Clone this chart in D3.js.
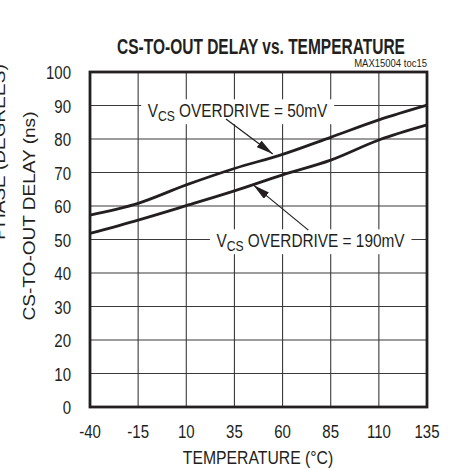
<!DOCTYPE html>
<html>
<head>
<meta charset="utf-8">
<script src="https://cdn.jsdelivr.net/npm/d3@7"></script>
<style>
  body { margin: 0; background: #fff; }
  svg { display: block; }
  text { font-family: "Liberation Sans", Arial, sans-serif; fill: #231f20; }
</style>
</head>
<body>
<div id="chart"></div>
<script>
// Data
const temps = [-40, -15, 10, 35, 60, 85, 110, 135];
const delay50mV = [57.3, 60.8, 66.3, 71.2, 75.4, 80.5, 85.7, 90.1];
const delay190mV = [51.8, 55.8, 60.1, 64.5, 69.3, 73.7, 79.7, 84.2];
const xTicks = [-40, -15, 10, 35, 60, 85, 110, 135];
const yTicks = [0, 10, 20, 30, 40, 50, 60, 70, 80, 90, 100];

// Annotations (data coords)
const notes = [
  {sub: "CS", rest: " OVERDRIVE = 50mV", x: 36.6, y: 86.6, from: [30.6, 86.0], to: [54.9, 75.5]},
  {sub: "CS", rest: " OVERDRIVE = 190mV", x: 74.5, y: 47.8, from: [73.4, 52.8], to: [44.8, 66.3]}
];

// Dimensions
const W = 453, H = 470;
const margin = {left: 90, right: 26, top: 72, bottom: 63};
const width = W - margin.left - margin.right;
const height = H - margin.top - margin.bottom;
const narrow = 0.79; // the original font is a condensed one

const svg = d3.select("#chart").append("svg")
    .attr("width", W)
    .attr("height", H);

svg.append("defs").append("marker")
    .attr("id", "arrow")
    .attr("viewBox", "0 0 17 8")
    .attr("refX", 17)
    .attr("refY", 4)
    .attr("markerWidth", 17)
    .attr("markerHeight", 8)
    .attr("markerUnits", "userSpaceOnUse")
    .attr("orient", "auto")
  .append("path")
    .attr("d", "M0,0L17,4L0,8Z")
    .attr("fill", "#231f20");

const g = svg.append("g")
    .attr("transform", `translate(${margin.left},${margin.top})`);

// Scales
const x = d3.scaleLinear().domain([-40, 135]).range([0, width]);
const y = d3.scaleLinear().domain([0, 100]).range([height, 0]);

// Grid
g.append("g").selectAll("line")
  .data(xTicks.slice(1, -1))
  .join("line")
    .attr("x1", d => x(d)).attr("x2", d => x(d))
    .attr("y1", 0).attr("y2", height)
    .attr("stroke", "#3a3a3a").attr("stroke-width", 1.1);

g.append("g").selectAll("line")
  .data(yTicks.slice(1, -1))
  .join("line")
    .attr("x1", 0).attr("x2", width)
    .attr("y1", d => y(d)).attr("y2", d => y(d))
    .attr("stroke", "#3a3a3a").attr("stroke-width", 1.1);

// Tick labels (squeezed with a transform)
g.append("g").selectAll("text")
  .data(xTicks)
  .join("text")
    .attr("transform", d => `translate(${x(d)},${height + 31}) scale(${narrow},1)`)
    .attr("text-anchor", "middle")
    .attr("font-size", 19)
    .text(d => d);

g.append("g").selectAll("text")
  .data(yTicks)
  .join("text")
    .attr("transform", d => `translate(-19,${y(d) + 7}) scale(${narrow},1)`)
    .attr("text-anchor", "end")
    .attr("font-size", 19)
    .text(d => d);

// Curves
const line = d3.line()
    .x((d, i) => x(temps[i]))
    .y(d => y(d))
    .curve(d3.curveMonotoneX);

[delay50mV, delay190mV].forEach(s => {
  g.append("path")
      .datum(s)
      .attr("d", line)
      .attr("fill", "none")
      .attr("stroke", "#231f20")
      .attr("stroke-width", 2.8);
});

// Annotations
notes.forEach(n => {
  const lbl = g.append("g")
      .attr("transform", `translate(${x(n.x)},${y(n.y)}) scale(0.81,1)`);
  const t = lbl.append("text")
      .attr("text-anchor", "middle")
      .attr("font-size", 19);
  t.append("tspan").text("V");
  t.append("tspan").attr("font-size", 15).attr("dy", 4).text(n.sub);
  t.append("tspan").attr("dy", -4).text(n.rest);
  const bb = t.node().getBBox();
  lbl.insert("rect", "text")
      .attr("x", bb.x - 8)
      .attr("y", bb.y)
      .attr("width", bb.width + 16)
      .attr("height", bb.height)
      .attr("fill", "#fff");
  g.append("line")
      .attr("x1", x(n.from[0])).attr("y1", y(n.from[1]))
      .attr("x2", x(n.to[0])).attr("y2", y(n.to[1]))
      .attr("stroke", "#231f20")
      .attr("stroke-width", 1.2)
      .attr("marker-end", "url(#arrow)");
});

// Frame
g.append("rect")
    .attr("width", width)
    .attr("height", height)
    .attr("fill", "none")
    .attr("stroke", "#231f20")
    .attr("stroke-width", 2.8);

// Titles
svg.append("text")
    .attr("transform", "translate(261,54) scale(0.705,1)")
    .attr("text-anchor", "middle")
    .attr("font-size", 22)
    .attr("font-weight", "bold")
    .text("CS-TO-OUT DELAY vs. TEMPERATURE");

svg.append("text")
    .attr("transform", `translate(${margin.left + width},67) scale(0.95,1)`)
    .attr("text-anchor", "end")
    .attr("font-size", 10)
    .text("MAX15004 toc15");

svg.append("text")
    .attr("transform", "translate(258,464) scale(0.83,1)")
    .attr("text-anchor", "middle")
    .attr("font-size", 19)
    .text("TEMPERATURE (°C)");

svg.append("text")
    .attr("transform", "translate(35,216) rotate(-90) scale(1.12,1)")
    .attr("text-anchor", "middle")
    .attr("font-size", 17)
    .text("CS-TO-OUT DELAY (ns)");

svg.append("text")
    .attr("transform", "translate(5,152) rotate(-90) scale(1.12,1)")
    .attr("text-anchor", "middle")
    .attr("font-size", 17)
    .text("PHASE (DEGREES)");
</script>
</body>
</html>
